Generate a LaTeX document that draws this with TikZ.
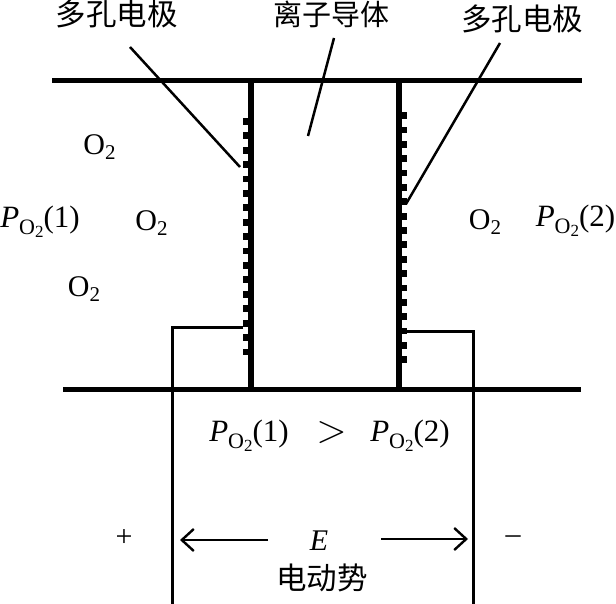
\documentclass[tikz,border=0pt]{standalone}
\usepackage{fontspec}
\setmainfont{Liberation Serif}
\newfontfamily\cjk{Noto Sans CJK SC}
\usetikzlibrary{arrows.meta}
\newcommand{\otwo}{O\raisebox{-5pt}{\fontsize{21}{21}\selectfont 2}}
\newcommand{\pgas}[1]{{\fontsize{31}{31}\selectfont\textit{P}\raisebox{-7pt}{\fontsize{22}{22}\selectfont O\raisebox{-3pt}{\fontsize{17}{17}\selectfont 2}}(#1)}}
\begin{document}
\begin{tikzpicture}[
        x=1pt, y=-1pt,
        cntext/.style={inner sep=0pt, font=\cjk\fontsize{30.5}{30.5}\selectfont},
        txt/.style={inner sep=0pt, font=\fontsize{30}{30}\selectfont},
        plate/.style={line width=5pt},
        wall/.style={line width=5.5pt},
        wire/.style={line width=3pt},
        leader/.style={line width=2.5pt},
        tooth/.style={line width=6.8pt},
        arrow/.style={-{Straight Barb[length=12pt, width=22pt, line width=2.4pt]}, line width=2.2pt}
    ]
        \useasboundingbox (0,0) rectangle (616,604);

        % Plates
        \coordinate (topL) at (52,81);
        \coordinate (topR) at (582,81);
        \coordinate (botL) at (63,389);
        \coordinate (botR) at (581,389);
        \draw[plate] (topL) -- (topR);
        \draw[plate] (botL) -- (botR);

        % Ion conductor walls
        \coordinate (wallLt) at (251,81);
        \coordinate (wallLb) at (251,389);
        \coordinate (wallRt) at (399,81);
        \coordinate (wallRb) at (399,389);
        \draw[wall] (wallLt) -- (wallLb);
        \draw[wall] (wallRt) -- (wallRb);

        % Porous electrodes
        \foreach \i in {0,...,16}
            \draw[tooth] (243,121.5+14.4*\i) -- (250,121.5+14.4*\i);
        \foreach \i in {0,...,17}
            \draw[tooth] (400,115.7+14.35*\i) -- (407,115.7+14.35*\i);

        % Labels
        \node[cntext] (elecL) at (116.5,14) {多孔电极};
        \node[cntext, font=\cjk\fontsize{29}{29}\selectfont] (ionic) at (331,14) {离子导体};
        \node[cntext] (elecR) at (522,19) {多孔电极};

        % Leaders
        \coordinate (elecLs) at (130,47);
        \coordinate (elecLe) at (240,167);
        \coordinate (ionics) at (334,38);
        \coordinate (ionice) at (308,136);
        \coordinate (elecRs) at (500,43);
        \coordinate (elecRe) at (406,204);
        \draw[leader] (elecLs) -- (elecLe);
        \draw[leader] (ionics) -- (ionice);
        \draw[leader] (elecRs) -- (elecRe);

        % Gas
        \node[txt] (oa) at (99.5,147) {\otwo};
        \node[txt] (ob) at (151.5,223) {\otwo};
        \node[txt] (oc) at (84,289) {\otwo};
        \node[txt] (od) at (485,222) {\otwo};
        \node[txt] (pa) at (40,222) {\pgas{1}};
        \node[txt] (pb) at (575.5,221) {\pgas{2}};
        \node[txt] (pc) at (249,436) {\pgas{1}};
        \node[txt] (gt) at (331.5,433) {\scalebox{1.6}{$>$}};
        \node[txt] (pd) at (410,436) {\pgas{2}};

        % Circuit
        \coordinate (wireLa) at (243,327);
        \coordinate (wireLb) at (172,327);
        \coordinate (wireLc) at (172,604);
        \coordinate (wireRa) at (407,331);
        \coordinate (wireRb) at (473,331);
        \coordinate (wireRc) at (473,604);
        \draw[wire] (wireLa) -- (wireLb) -- (wireLc);
        \draw[wire] (wireRa) -- (wireRb) -- (wireRc);

        % EMF
        \node[txt] (emf) at (319,541) {\textit{E}};
        \node[cntext] (emfname) at (322,578) {电动势};
        \node[txt] (plus) at (124,538) {+};
        \node[txt] (minus) at (513,540) {–};
        \coordinate (arrLs) at (268,540);
        \coordinate (arrLe) at (180,540);
        \coordinate (arrRs) at (381,539);
        \coordinate (arrRe) at (468,539);
        \draw[arrow] (arrLs) -- (arrLe);
        \draw[arrow] (arrRs) -- (arrRe);

    \end{tikzpicture}
\end{document}
